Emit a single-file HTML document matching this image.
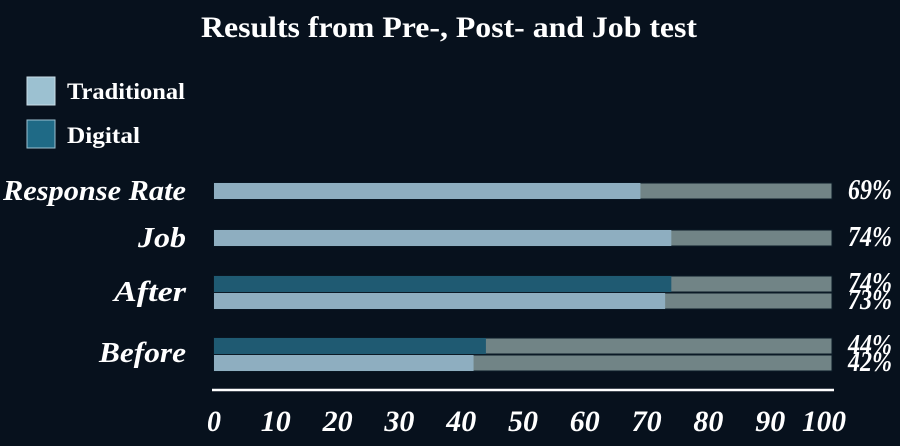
<!DOCTYPE html>
<html><head><meta charset="utf-8"><style>
html,body{margin:0;padding:0;background:#07111d;}
svg{display:block;}
text{font-family:"Liberation Serif",serif;fill:#fff;}
</style></head><body>
<svg width="900" height="446" viewBox="0 0 900 446">
<rect width="900" height="446" fill="#07111d"/>
<text x="449" y="37" text-anchor="middle" font-size="30" font-weight="bold" textLength="496" lengthAdjust="spacingAndGlyphs">Results from Pre-, Post- and Job test</text>
<rect x="27" y="77" width="28" height="28" fill="#9cc1d1" stroke="#c9dde6" stroke-width="1"/>
<text x="67" y="99" font-size="23" font-weight="bold" textLength="118" lengthAdjust="spacingAndGlyphs">Traditional</text>
<rect x="27" y="120" width="28" height="28" fill="#1f6a86" stroke="#9cc1d1" stroke-width="1"/>
<text x="67" y="143" font-size="23" font-weight="bold" textLength="73" lengthAdjust="spacingAndGlyphs">Digital</text>
<g id="bars"></g>
<line x1="212" y1="390" x2="834" y2="390" stroke="#fff" stroke-width="2.5"/>
<g id="ticks"></g>
</svg>
<script>
const categories = ["Response Rate","Job","After","Before"];
const digitalValues = [null,null,74,44];
const traditionalValues = [69,74,73,42];
const tickLabels = [0,10,20,30,40,50,60,70,80,90,100];

const x0 = 214, x1 = 832;
function xs(v){ return x0 + (x1 - x0) * v / 100; }
const catLabelY = [200, 247, 301, 362];
const catLabelW = [183, 48, 72, 87];
const NS = "http://www.w3.org/2000/svg";
const g = document.getElementById("bars");
function mk(tag, attrs){ const e = document.createElementNS(NS, tag); for (const k in attrs) e.setAttribute(k, attrs[k]); return e; }

function drawBar(y, v, color, name){
  const bg = mk("rect", {x:x0, y:y, width:x1-x0, height:16, fill:"#718486", stroke:"#0b1a26", "stroke-width":1});
  
  
  g.appendChild(bg);
  const r = mk("rect", {x:x0, y:y, width:xs(v)-x0, height:16, fill:color});
  
  
  g.appendChild(r);
  const t = mk("text", {x:848, y:y+16, "font-size":"28", "font-style":"italic", "font-weight":"bold", textLength:"44", lengthAdjust:"spacingAndGlyphs"});
  t.textContent = v + "%";
  
  
  g.appendChild(t);
}

const barTops = [[null,183],[null,230],[276,293],[338,355]];
categories.forEach((c,i)=>{
  const slug = c.toLowerCase().replace(/\s+/g,'-');
  const lab = mk("text", {x:186 - catLabelW[i], y:catLabelY[i], "font-size":"29", "font-style":"italic", "font-weight":"bold", textLength:String(catLabelW[i]), lengthAdjust:"spacingAndGlyphs"});
  lab.textContent = c;
  
  
  g.appendChild(lab);
  if (digitalValues[i] !== null) drawBar(barTops[i][0], digitalValues[i], "#1f5a72", 'bar-digital-' + slug);
  drawBar(barTops[i][1], traditionalValues[i], "#8eaec0", 'bar-traditional-' + slug);
});

const tg = document.getElementById("ticks");
tickLabels.forEach(v=>{
  const w = v===0 ? 14 : (v===100 ? 44 : 30);
  const cx = xs(v) - (v===100?8:0);
  const t = mk("text", {x:cx - w/2, y:431, "font-size":"30", "font-style":"italic", "font-weight":"bold", textLength:String(w), lengthAdjust:"spacingAndGlyphs"});
  t.textContent = v;
  
  
  tg.appendChild(t);
});
</script>
</body></html>
